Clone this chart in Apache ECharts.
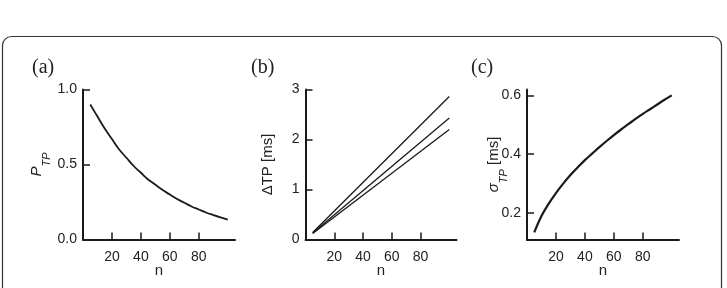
<!DOCTYPE html>
<html>
  <head>
    <title>P_TP, delta TP and sigma TP versus n</title>
    <style>
      html, body {
        margin: 0;
        padding: 0;
        width: 727px;
        height: 288px;
        background: #fff;
      }
      #container {
        width: 727px;
        height: 288px;
      }
    </style>
  </head>
  <body>
    <div id="container"></div>
    <script src="https://cdn.jsdelivr.net/npm/echarts@6/dist/echarts.min.js"></script>
    <script type="text/javascript">

      // values
      const nValues = [5, 10, 15, 20, 25, 30, 35, 40, 45, 50, 55, 60, 65, 70, 75, 80, 85, 90, 95, 100];
      const pTP = [0.90, 0.82, 0.74, 0.67, 0.60, 0.545, 0.49, 0.445, 0.40, 0.365,
                   0.33, 0.30, 0.27, 0.245, 0.22, 0.20, 0.18, 0.163, 0.147, 0.133];
      const sigmaTP = [0.134, 0.19, 0.232, 0.268, 0.30, 0.329, 0.355, 0.38, 0.402, 0.424,
                       0.445, 0.465, 0.484, 0.502, 0.52, 0.537, 0.553, 0.569, 0.585, 0.60];

      const nLine = [5, 100];
      const deltaTop = [0.14, 2.86];
      const deltaMid = [0.13, 2.43];
      const deltaLow = [0.12, 2.20];

      const xTicks = [20, 40, 60, 80];
      const panelLetters = ['(a)', '(b)', '(c)'];

      const pair = (xs, ys) => xs.map((x, i) => [x, ys[i]]);

      const ink = '#1a1a1a';
      const tickFont = { fontFamily: 'Liberation Sans', fontSize: 14, color: '#222' };

      const grids = [
        { left: 83, top: 89.5, width: 152, height: 150, outerBoundsMode: 'none', containLabel: false },
        { left: 305.5, top: 89.5, width: 151, height: 150, outerBoundsMode: 'none', containLabel: false },
        { left: 527, top: 89.5, width: 152, height: 150, outerBoundsMode: 'none', containLabel: false }
      ];

      const makeX = idx => ({
        type: 'value',
        gridIndex: idx,
        min: 0,
        max: 105,
        name: 'n',
        nameLocation: 'middle',
        nameGap: 18,
        nameMoveOverlap: false,
        nameTextStyle: { fontFamily: 'Liberation Sans', fontSize: 15, color: '#222' },
        axisLine: { show: true, onZero: false, lineStyle: { color: ink, width: 2 } },
        axisTick: { show: true, inside: true, length: 7, customValues: xTicks, lineStyle: { color: ink, width: 1.5 } },
        axisLabel: Object.assign({ customValues: xTicks, margin: 6 }, tickFont),
        splitLine: { show: false }
      });

      const makeY = (idx, opts) => Object.assign({
        type: 'value',
        gridIndex: idx,
        nameLocation: 'middle',
        nameRotate: 90,
        nameMoveOverlap: false,
        axisLine: { show: true, onZero: false, lineStyle: { color: ink, width: 2 } },
        axisTick: { show: true, inside: true, length: 7, customValues: opts.ticks, lineStyle: { color: ink, width: 1.5 } },
        axisLabel: Object.assign({ customValues: opts.labels, margin: 6, formatter: opts.fmt }, tickFont),
        splitLine: { show: false }
      }, opts.extra);

      const nameRich = {
        it: { fontFamily: 'Liberation Sans', fontStyle: 'italic', fontSize: 15, color: '#222' },
        sub: { fontFamily: 'Liberation Sans', fontStyle: 'italic', fontSize: 11, color: '#222', verticalAlign: 'bottom', padding: [0, 0, -6, 0] },
        rm: { fontFamily: 'Liberation Sans', fontSize: 15, color: '#222' }
      };

      const yAxes = [
        makeY(0, {
          ticks: [0.5, 1.0], labels: [0, 0.5, 1.0], fmt: v => v.toFixed(1),
          extra: {
            min: 0, max: 1, name: '{it|P}{sub|TP}', nameGap: 33,
            nameTextStyle: { rich: nameRich }
          }
        }),
        makeY(1, {
          ticks: [1, 2, 3], labels: [0, 1, 2, 3], fmt: v => String(v),
          extra: {
            min: 0, max: 3, name: '\u0394TP [ms]', nameGap: 25,
            nameTextStyle: { fontFamily: 'Liberation Sans', fontSize: 15, color: '#222' }
          }
        }),
        makeY(2, {
          ticks: [0.2, 0.4, 0.6], labels: [0.2, 0.4, 0.6], fmt: v => v.toFixed(1),
          extra: {
            min: 0.11, max: 0.62, name: '{it|\u03c3}{sub|TP}{rm| [ms]}', nameGap: 20,
            nameTextStyle: { rich: nameRich }
          }
        })
      ];

      const lineSeries = (idx, data, width, smooth) => ({
        type: 'line',
        xAxisIndex: idx,
        yAxisIndex: idx,
        data: data,
        showSymbol: false,
        smooth: smooth,
        silent: true,
        lineStyle: { color: ink, width: width }
      });

      const letterX = [32, 251, 471];

      const option = {
        animation: false,
        backgroundColor: '#fff',
        grid: grids,
        xAxis: [makeX(0), makeX(1), makeX(2)],
        yAxis: yAxes,
        series: [
          lineSeries(0, pair(nValues, pTP), 1.8, 0.4),
          lineSeries(1, pair(nLine, deltaTop), 1.3, false),
          lineSeries(1, pair(nLine, deltaMid), 1.3, false),
          lineSeries(1, pair(nLine, deltaLow), 1.3, false),
          lineSeries(2, pair(nValues, sigmaTP), 2.2, 0.4)
        ],
        graphic: [
          {
            type: 'rect',
            shape: { x: 2.5, y: 36.5, width: 719, height: 270, r: 9 },
            style: { fill: 'none', stroke: '#333', lineWidth: 1.2 },
            silent: true
          }
        ].concat(panelLetters.map((t, i) => ({
          type: 'text',
          left: letterX[i],
          top: 52,
          style: { text: t, font: '20px "Liberation Serif"', fill: '#222' },
          silent: true
        })))
      };

      const chart = echarts.init(document.getElementById('container'), null, { renderer: 'canvas' });
      chart.setOption(option);
    </script>
  </body>
</html>
